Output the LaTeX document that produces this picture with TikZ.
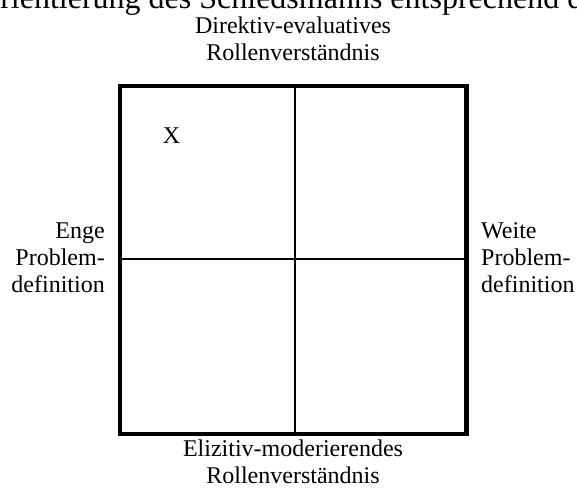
\documentclass[tikz,border=0pt]{standalone}
\usepackage{fontspec}
\setmainfont{Liberation Serif}
\begin{document}
\begin{tikzpicture}[x=1pt,y=-1pt,
  lbl/.style={inner sep=0pt, font=\fontsize{24}{27}\selectfont},
  frame/.style={line width=4.3pt},
  divider/.style={line width=2pt}]
\useasboundingbox (0,0) rectangle (577,487);
\fill[white] (0,0) rectangle (577,487);
\begin{scope}
\clip (0,0) rectangle (577,487);
\node[inner sep=0pt, anchor=base west, font=\fontsize{32}{36}\selectfont] (title) at (-23,9)
  {Orientierung des Schiedsmanns entsprechend der};
\end{scope}

% grid frame
\coordinate (tl) at (120,86);
\coordinate (br) at (466.5,434);
\coordinate (mt) at (294.5,86);
\coordinate (mb) at (294.5,434);
\coordinate (ml) at (120,259.3);
\coordinate (mr) at (466.5,259.3);
\draw[divider] (mt) -- (mb);
\draw[divider] (ml) -- (mr);
\draw[frame] (tl) rectangle (br);

% axis labels (base anchor sits on the last line)
\node[lbl, anchor=base, align=center] (top) at (293,60)
  {Direktiv-evaluatives\\Rollenverständnis};
\node[lbl, anchor=base, align=center] (bottom) at (293,483)
  {Elizitiv-moderierendes\\Rollenverständnis};
\node[lbl, anchor=base east, align=right] (left) at (105,292)
  {Enge\\Problem-\\definition};
\node[lbl, anchor=base west, align=left] (right) at (481,292)
  {Weite\\Problem-\\definition};

% marker
\node[lbl, anchor=base] (x) at (171.5,143) {X};
\end{tikzpicture}
\end{document}
